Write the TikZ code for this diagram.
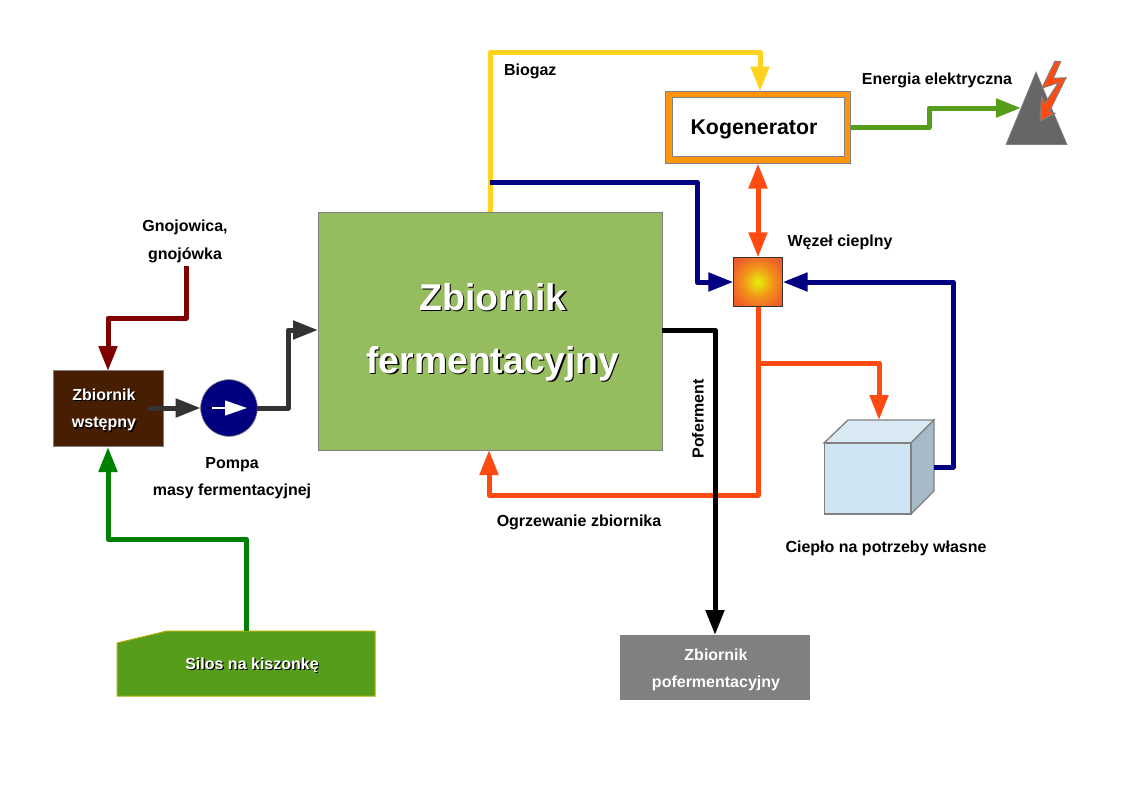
\documentclass[tikz,border=0pt]{standalone}
\usepackage{fontspec}
\setmainfont{Liberation Sans}
\usetikzlibrary{arrows.meta}
\definecolor{bioyellow}{HTML}{FFD320}
\definecolor{heatred}{HTML}{FF4A12}
\definecolor{navyline}{HTML}{000080}
\definecolor{slurryred}{HTML}{7F0000}
\definecolor{silagegreen}{HTML}{008000}
\definecolor{massgray}{HTML}{333333}
\definecolor{powergreen}{HTML}{579D1C}
\definecolor{tankgreen}{HTML}{95BD5F}
\definecolor{cogenorange}{HTML}{FF950E}
\definecolor{prebrown}{HTML}{481E02}
\definecolor{edgegray}{HTML}{808080}
\definecolor{storefront}{HTML}{CFE4F2}
\definecolor{storetop}{HTML}{DAEAF5}
\definecolor{storeside}{HTML}{A7BAC7}
\definecolor{siloedge}{HTML}{B0B000}
\definecolor{glowcore}{HTML}{E6F00A}
\definecolor{glowmid}{HTML}{F2901A}
\definecolor{glowedge}{HTML}{F0622A}
\definecolor{glowrim}{HTML}{EE4A30}
\pgfdeclareradialshading{hubglow}{\pgfpoint{0bp}{0bp}}{color(0bp)=(glowcore); color(16bp)=(glowmid); color(28bp)=(glowedge); color(42bp)=(glowrim); color(100bp)=(glowrim)}
\newcommand{\shadowed}[1]{\leavevmode\rlap{\raisebox{-0.9pt}{\hspace{0.9pt}\textcolor{black}{#1}}}\textcolor{white}{#1}}
\tikzset{
  x=0.75pt,y=-0.75pt,
  outer sep=0pt,
  flow/.style={line width=3.75pt,line join=round,-{Triangle[length=18.75pt,width=13.5pt]}},
  flowback/.style={line width=3.75pt,{Triangle[length=18.75pt,width=13.5pt]}-{Triangle[length=18.75pt,width=13.5pt]}},
  label/.style={font=\fontsize{12}{14}\selectfont\bfseries,text=black,inner sep=0pt,align=center},
  onfill/.style={font=\fontsize{12}{14}\selectfont\bfseries,inner sep=0pt,align=center},
  bigtitle/.style={font=\fontsize{28}{32}\selectfont\bfseries,inner sep=0pt,align=center},
  box/.style={draw=edgegray,line width=0.75pt,inner sep=0pt},
}
\begin{document}
\begin{tikzpicture}
\useasboundingbox (0,0) rectangle (1123,794);

% tanks and equipment
\node[box,fill=tankgreen,minimum width=258pt,minimum height=178.5pt] (ferm) at (490,331) {};
\node[box,fill=cogenorange,minimum width=139pt,minimum height=54pt] (cogen) at (758,127.5) {};
\node[box,fill=white,minimum width=129pt,minimum height=44pt] (cogeninner) at (758,127) {};
\node[draw=massgray,line width=0.75pt,minimum size=37pt,inner sep=0pt,shading=hubglow] (hub) at (758,282) {};
\node[box,fill=prebrown,minimum width=82.5pt,minimum height=56.5pt] (pre) at (108,408.5) {};
\node[circle,draw=edgegray,line width=0.5pt,fill=navyline,minimum size=42.5pt,inner sep=0pt] (pump) at (229,408) {};
\node[fill=edgegray,minimum width=142.5pt,minimum height=48.75pt,inner sep=0pt] (post) at (715,667.5) {};
\draw[draw=white,line width=1.5pt,-{Triangle[length=16.5pt,width=11pt]}] (212,408) -- (247,408);

% silage silo
\draw[draw=siloedge,line width=0.75pt,fill=powergreen] (117,643) -- (167,631) -- (375,631) -- (375,696) -- (117,696) -- cycle;
\coordinate (siloTop) at (246,631);

% heated store
\draw[draw=edgegray,line width=1pt,fill=storetop] (824,443) -- (848,420) -- (934,420) -- (911,443) -- cycle;
\draw[draw=edgegray,line width=1pt,fill=storeside] (911,443) -- (934,420) -- (934,491) -- (911,514) -- cycle;
\node[draw=edgegray,line width=1pt,fill=storefront,minimum width=65pt,minimum height=53.25pt,inner sep=0pt] (store) at (867.5,478.5) {};
\coordinate (storeSide) at (934,467);
\coordinate (storeTop) at (879,420);

% generator symbol with lightning bolt
\draw[draw=edgegray,line width=0.5pt,fill=black!60] (1006,144.5) -- (1036,72) -- (1067,144.5) -- cycle;
\coordinate (genW) at (1021,108);
\draw[draw=edgegray,line width=0.75pt,fill=heatred,line join=miter] (1055,61) -- (1060.7,61.7) -- (1053.3,78.3) -- (1066,77.7) -- (1049.3,111.7) -- (1055,113.3) -- (1040,121) -- (1041.7,96.7) -- (1045,103.3) -- (1058.3,82.7) -- (1041.7,88.3) -- cycle;

% biogas
\coordinate (ferTop) at (490,212);
\draw[flow,bioyellow] (ferTop) -- (490,52) -- (760,52) -- (760,91.5);
% return to heat hub
\coordinate (ferNavy) at (490,182);
\draw[flow,navyline] (ferNavy) -- (697,182) -- (697,282) -- (hub.west);
\draw[flow,navyline] (storeSide) -- (953,467) -- (953,282) -- (hub.east);
% electricity
\draw[flow,powergreen] (cogen.east |- 0,127) -- (929,127) -- (929,108) -- (genW);
% heat between unit and hub
\draw[flowback,heatred] (cogen.south) -- (hub.north);
% heat distribution
\draw[flow,heatred] (hub.south) -- (758,495) -- (489,495) -- (489,450);
\draw[flow,heatred] (758,363) -- (879,363) -- (storeTop);
% digestate
\draw[flow,black] (ferm.east |- 0,330) -- (715,330) -- (715,635);
% feed lines
\coordinate (slurry) at (186,266);
\draw[flow,slurryred] (slurry) -- (186,318) -- (108,318) -- (108,371);
\draw[flow,silagegreen] (siloTop) -- (246,539) -- (108,539) -- (108,447);
\coordinate (preOut) at (148,408);
\draw[flow,massgray] (preOut) -- (pump.west);
\draw[flow,massgray] (pump.east) -- (288,408) -- (288,330) -- (ferm.west |- 0,330);

% labels
\node[label,anchor=west] (tBiogaz) at (504,71) {Biogaz};
\node[label] (tSlurry1) at (185,227) {Gnojowica,};
\node[label] (tSlurry2) at (185,255) {gnojówka};
\node[onfill] (tPre1) at (104,395) {\shadowed{Zbiornik}};
\node[onfill] (tPre2) at (104,425) {\shadowed{wstępny}};
\node[label] (tPump1) at (232,465) {Pompa};
\node[label] (tPump2) at (232,491) {masy fermentacyjnej};
\node[bigtitle] (tFerm1) at (493,298) {\shadowed{Zbiornik}};
\node[bigtitle] (tFerm2) at (493,364) {\shadowed{fermentacyjny}};
\node[label,rotate=90] (tDigest) at (698,419) {Poferment};
\node[label] (tHeatTank) at (579,522) {Ogrzewanie zbiornika};
\node[label] (tOwn) at (886,548) {Ciepło na potrzeby własne};
\node[label] (tHub) at (840,242) {Węzeł cieplny};
\node[label] (tPower) at (937,80) {Energia elektryczna};
\node[label,font=\fontsize{16}{18}\selectfont\bfseries] (tCogen) at (754,129) {Kogenerator};
\node[onfill] (tSilo) at (252,666) {\shadowed{Silos na kiszonkę}};
\node[onfill,text=white] (tPost1) at (716,655) {Zbiornik};
\node[onfill,text=white] (tPost2) at (716,683) {pofermentacyjny};
\end{tikzpicture}
\end{document}
